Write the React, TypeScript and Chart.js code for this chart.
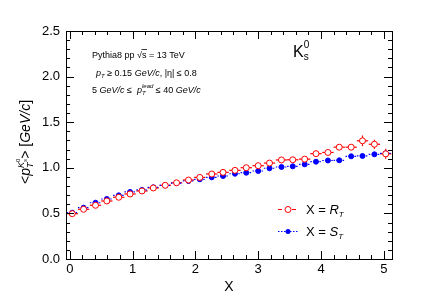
import React, { useEffect, useRef } from "react";
import { Chart, registerables } from "chart.js";
Chart.register(...registerables);

const xValues = [0.04, 0.22, 0.41, 0.59, 0.78, 0.96, 1.15, 1.33, 1.52, 1.7, 1.89, 2.07, 2.26, 2.44, 2.63, 2.81, 3.0, 3.18, 3.37, 3.55, 3.74, 3.92, 4.11, 4.29, 4.48, 4.66, 4.85, 5.03];
const rtValues = [0.497, 0.545, 0.589, 0.636, 0.677, 0.713, 0.746, 0.779, 0.808, 0.836, 0.866, 0.895, 0.932, 0.95, 0.972, 1.001, 1.023, 1.052, 1.086, 1.088, 1.095, 1.155, 1.168, 1.226, 1.226, 1.296, 1.258, 1.153];
const stValues = [0.508, 0.563, 0.617, 0.658, 0.698, 0.735, 0.757, 0.786, 0.808, 0.833, 0.855, 0.874, 0.896, 0.91, 0.935, 0.946, 0.965, 0.995, 1.009, 1.016, 1.038, 1.067, 1.08, 1.082, 1.126, 1.13, 1.148, 1.159];
const rtErrors = [0.004, 0.004, 0.004, 0.004, 0.004, 0.004, 0.004, 0.004, 0.004, 0.004, 0.005, 0.005, 0.005, 0.005, 0.005, 0.006, 0.006, 0.006, 0.007, 0.008, 0.009, 0.01, 0.012, 0.015, 0.02, 0.058, 0.05, 0.055];
const stErrors = [0.003, 0.003, 0.003, 0.003, 0.003, 0.003, 0.003, 0.003, 0.003, 0.003, 0.003, 0.003, 0.003, 0.003, 0.004, 0.004, 0.004, 0.004, 0.004, 0.004, 0.005, 0.005, 0.006, 0.006, 0.007, 0.008, 0.01, 0.015];
const binHalfWidth = 0.09;
const xTicks = [0, 1, 2, 3, 4, 5];
const yTicks = [0, 0.5, 1, 1.5, 2, 2.5];
const xRange = [-0.06, 5.13];
const yRange = [0, 2.5];

const RED = "#ff0000";
const BLUE = "#0000ff";
const FONT = "'Liberation Sans', Arial, Helvetica, sans-serif";

type Part = { t: string; s: number; i?: boolean; dy?: number; hold?: boolean };

function drawRich(ctx: CanvasRenderingContext2D, x: number, y: number, parts: Part[], measureOnly = false) {
  let cx = x;
  let held = 0;
  for (const p of parts) {
    ctx.font = `${p.i ? "italic " : ""}${p.s}px ${FONT}`;
    const w = ctx.measureText(p.t).width;
    if (!measureOnly) ctx.fillText(p.t, cx, y + (p.dy || 0));
    if (p.hold) {
      held = Math.max(held, w);
    } else {
      cx += Math.max(w, held);
      held = 0;
    }
  }
  return cx - x;
}

const decor = {
  id: "decor",
  beforeDatasetsDraw(chart: any) {
    const ctx: CanvasRenderingContext2D = chart.ctx;
    const xs = chart.scales.x;
    const ys = chart.scales.y;
    const series = [
      { vals: rtValues, errs: rtErrors, color: RED, dash: [] as number[] },
      { vals: stValues, errs: stErrors, color: BLUE, dash: [1.5, 1.5] },
    ];
    ctx.save();
    for (const s of series) {
      ctx.strokeStyle = s.color;
      ctx.lineWidth = 1.2;
      ctx.setLineDash(s.dash);
      for (let i = 0; i < xValues.length; i++) {
        const px = xs.getPixelForValue(xValues[i]);
        const py = ys.getPixelForValue(s.vals[i]);
        const x0 = xs.getPixelForValue(xValues[i] - binHalfWidth);
        const x1 = xs.getPixelForValue(xValues[i] + binHalfWidth);
        ctx.beginPath();
        ctx.moveTo(x0, py);
        ctx.lineTo(x1, py);
        ctx.stroke();
        const y0 = ys.getPixelForValue(s.vals[i] - s.errs[i]);
        const y1 = ys.getPixelForValue(s.vals[i] + s.errs[i]);
        ctx.beginPath();
        ctx.moveTo(px, y0);
        ctx.lineTo(px, y1);
        ctx.stroke();
      }
    }
    ctx.restore();
  },
  afterDraw(chart: any) {
    const ctx: CanvasRenderingContext2D = chart.ctx;
    const a = chart.chartArea;
    const xs = chart.scales.x;
    const ys = chart.scales.y;
    ctx.save();
    ctx.strokeStyle = "#000";
    ctx.lineWidth = 1;
    ctx.setLineDash([]);
    // frame
    ctx.strokeRect(Math.round(a.left) + 0.5, Math.round(a.top) + 0.5, Math.round(a.right - a.left), Math.round(a.bottom - a.top));
    // x ticks
    for (let k = 0; k <= 26; k++) {
      const v = k * 0.2;
      if (v > xRange[1]) break;
      const major = k % 5 === 0;
      const len = major ? 8 : 4;
      const px = Math.round(xs.getPixelForValue(v)) + 0.5;
      ctx.beginPath();
      ctx.moveTo(px, a.bottom);
      ctx.lineTo(px, a.bottom - len);
      ctx.moveTo(px, a.top);
      ctx.lineTo(px, a.top + len);
      ctx.stroke();
    }
    // y ticks
    for (let k = 0; k <= 25; k++) {
      const v = k * 0.1;
      const major = k % 5 === 0;
      const len = major ? 8 : 4;
      const py = Math.round(ys.getPixelForValue(v)) + 0.5;
      ctx.beginPath();
      ctx.moveTo(a.left, py);
      ctx.lineTo(a.left + len, py);
      ctx.moveTo(a.right, py);
      ctx.lineTo(a.right - len, py);
      ctx.stroke();
    }

    ctx.fillStyle = "#000";
    ctx.textAlign = "left";
    ctx.textBaseline = "alphabetic";

    // annotation
    const w1 = drawRich(ctx, 92, 57.5, [{ t: "Pythia8 pp ", s: 9 }]);
    ctx.font = `9px ${FONT}`;
    const sqrtW = ctx.measureText("√").width;
    const sW = ctx.measureText("s").width;
    drawRich(ctx, 92 + w1, 57.5, [{ t: "√s", s: 9 }, { t: " = 13 TeV", s: 9 }]);
    ctx.beginPath();
    ctx.lineWidth = 0.8;
    ctx.moveTo(92 + w1 + sqrtW - 0.5, 49.5);
    ctx.lineTo(92 + w1 + sqrtW + sW + 0.5, 49.5);
    ctx.stroke();

    drawRich(ctx, 96, 75.5, [
      { t: "p", s: 9, i: true },
      { t: "T", s: 6, i: true, dy: 2.5 },
      { t: " ≥ 0.15 ", s: 9 },
      { t: "GeV/c", s: 9, i: true },
      { t: ", |η| ≤ 0.8", s: 9 },
    ]);
    drawRich(ctx, 92, 92.5, [
      { t: "5 ", s: 9 },
      { t: "GeV/c", s: 9, i: true },
      { t: " ≤  ", s: 9 },
      { t: "p", s: 9, i: true },
      { t: "lead", s: 6, i: true, dy: -5, hold: true },
      { t: "T", s: 6, i: true, dy: 2.5 },
      { t: " ≤ 40 ", s: 9 },
      { t: "GeV/c", s: 9, i: true },
    ]);

    // K0s label
    drawRich(ctx, 293, 57, [
      { t: "K", s: 16 },
      { t: "0", s: 10, dy: -9, hold: true },
      { t: "s", s: 10, dy: 3 },
    ]);

    // x title
    ctx.font = `14px ${FONT}`;
    ctx.textAlign = "center";
    ctx.fillText("X", 229, 291);
    ctx.textAlign = "left";

    // y title
    const yParts: Part[] = [
      { t: "<", s: 14 },
      { t: "p", s: 14, i: true },
      { t: "K", s: 9, i: true, dy: -6, hold: true },
      { t: "T", s: 9, i: true, dy: 3 },
      { t: "s", s: 6, i: true, dy: -3, hold: true },
      { t: "0", s: 6, dy: -10 },
      { t: ">", s: 14 },
      { t: " [", s: 14 },
      { t: "GeV/c", s: 14, i: true },
      { t: "]", s: 14 },
    ];
    const tw = drawRich(ctx, 0, 0, yParts, true);
    ctx.save();
    ctx.translate(30, 142);
    ctx.rotate(-Math.PI / 2);
    drawRich(ctx, -tw / 2, 0, yParts);
    ctx.restore();

    // legend
    const legend = [
      { y: 209, color: RED, dash: [4, 3], filled: false, label: "R" },
      { y: 231, color: BLUE, dash: [1.5, 1.5], filled: true, label: "S" },
    ];
    for (const l of legend) {
      ctx.strokeStyle = l.color;
      ctx.lineWidth = 1.2;
      ctx.setLineDash(l.dash);
      ctx.beginPath();
      ctx.moveTo(278, l.y + 0.5);
      ctx.lineTo(298, l.y + 0.5);
      ctx.stroke();
      ctx.setLineDash([]);
      ctx.beginPath();
      ctx.arc(288, l.y + 0.5, l.filled ? 2.5 : 3, 0, Math.PI * 2);
      if (l.filled) {
        ctx.fillStyle = l.color;
        ctx.fill();
      } else {
        ctx.fillStyle = "#fff";
        ctx.fill();
        ctx.lineWidth = 1;
        ctx.stroke();
      }
      ctx.fillStyle = "#000";
      drawRich(ctx, 306, l.y + 4.5, [
        { t: "X = ", s: 13 },
        { t: l.label, s: 13, i: true },
        { t: "T", s: 8, i: true, dy: 3 },
      ]);
    }
    ctx.restore();
  },
};

export default function App() {
  const ref = useRef<HTMLCanvasElement>(null);
  useEffect(() => {
    if (!ref.current) return;
    const chart = new Chart(ref.current, {
      type: "scatter",
      data: {
        datasets: [
          {
            label: "X = R_T",
            data: xValues.map((x, i) => ({ x, y: rtValues[i] })),
            pointRadius: 3,
            pointBorderWidth: 1,
            pointBorderColor: RED,
            pointBackgroundColor: "#ffffff",
            showLine: false,
          },
          {
            label: "X = S_T",
            data: xValues.map((x, i) => ({ x, y: stValues[i] })),
            pointRadius: 2.5,
            pointBorderWidth: 1,
            pointBorderColor: BLUE,
            pointBackgroundColor: BLUE,
            showLine: false,
          },
        ],
      },
      options: {
        responsive: false,
        animation: false,
        devicePixelRatio: 1,
        layout: { padding: { top: 31, right: 44, left: 0, bottom: 0 } },
        plugins: { legend: { display: false }, tooltip: { enabled: false } },
        scales: {
          x: {
            type: "linear",
            min: xRange[0],
            max: xRange[1],
            grid: { display: false, drawTicks: false },
            border: { display: false },
            afterBuildTicks: (s: any) => {
              s.ticks = xTicks.map((v) => ({ value: v }));
            },
            afterFit: (s: any) => {
              s.height = 46;
            },
            ticks: {
              color: "#000",
              padding: 3,
              maxRotation: 0,
              autoSkip: false,
              font: { family: FONT, size: 13 },
              callback: (v: any) => String(v),
            },
          },
          y: {
            type: "linear",
            min: yRange[0],
            max: yRange[1],
            grid: { display: false, drawTicks: false },
            border: { display: false },
            afterBuildTicks: (s: any) => {
              s.ticks = yTicks.map((v) => ({ value: v }));
            },
            afterFit: (s: any) => {
              s.width = 66;
            },
            ticks: {
              color: "#000",
              padding: 6,
              autoSkip: false,
              font: { family: FONT, size: 13 },
              callback: (v: any) => Number(v).toFixed(1),
            },
          },
        },
      },
      plugins: [decor],
    } as any);
    return () => chart.destroy();
  }, []);
  return (
    <div style={{ position: "fixed", left: 0, top: 0, width: 436, height: 305, background: "#fff" }}>
      <canvas ref={ref} width={436} height={305} />
    </div>
  );
}
